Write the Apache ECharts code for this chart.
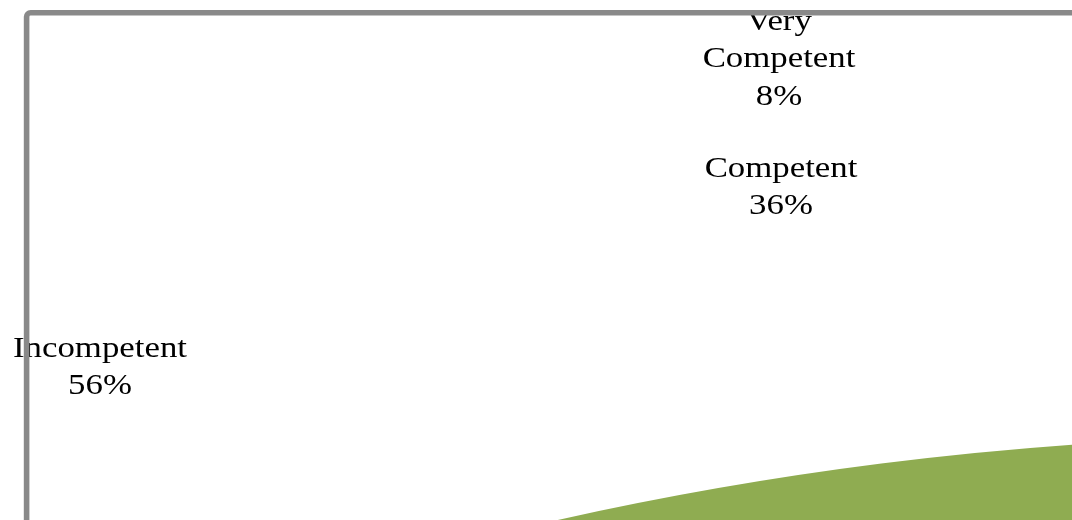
<!DOCTYPE html>
<html>
<head>
<meta charset="utf-8">
<style>html,body{margin:0;padding:0;background:#fff;}#c{width:1072px;height:520px;}</style>
<script src="https://cdn.jsdelivr.net/npm/echarts@6/dist/echarts.min.js"></script>
</head>
<body>
<div id="c"></div>
<script>
// ---- data ----
var categories = ['Incompetent', 'Competent', 'Very Competent'];
var values = [56, 36, 8];
var labelLines = [['Incompetent'], ['Competent'], ['Very', 'Competent']];

// ---- styles / layout ----
var colors = ['#4F81BD', '#C0504D', '#8FAC51'];
var labelAnchors = [[100, 357], [781, 177], [779, 30]]; // center x, first-line baseline
var lineGap = 37.5;
var fontSize = 30;
var stretch = 1.16;

var chart = echarts.init(document.getElementById('c'), null, {renderer: 'canvas'});

var graphics = [];
categories.forEach(function (cat, i) {
  var lines = labelLines[i].concat([values[i] + '%']);
  lines.forEach(function (ln, j) {
    graphics.push({
      type: 'text',
      x: labelAnchors[i][0],
      y: labelAnchors[i][1] + j * lineGap - 8,
      scaleX: stretch,
      z: 5,
      style: {
        text: ln,
        font: fontSize + 'px "Liberation Serif", "Times New Roman", serif',
        fill: '#000',
        textAlign: 'center',
        textVerticalAlign: 'middle'
      }
    });
  });
});
graphics.push({
  type: 'rect',
  z: 10,
  silent: true,
  shape: {x: 26.6, y: 12.7, width: 3000, height: 3000, r: 4},
  style: {fill: 'none', stroke: '#898989', lineWidth: 5.6}
});

chart.setOption({
  animation: false,
  backgroundColor: '#fff',
  color: colors,
  graphic: graphics,
  series: [{
    type: 'pie',
    silent: true,
    center: [1320, 3936],
    radius: 3500,
    startAngle: 90,
    clockwise: true,
    label: {show: false},
    labelLine: {show: false},
    itemStyle: {borderWidth: 0},
    data: categories.map(function (c, i) { return {name: c, value: values[i]}; })
  }]
});
</script>
</body>
</html>
